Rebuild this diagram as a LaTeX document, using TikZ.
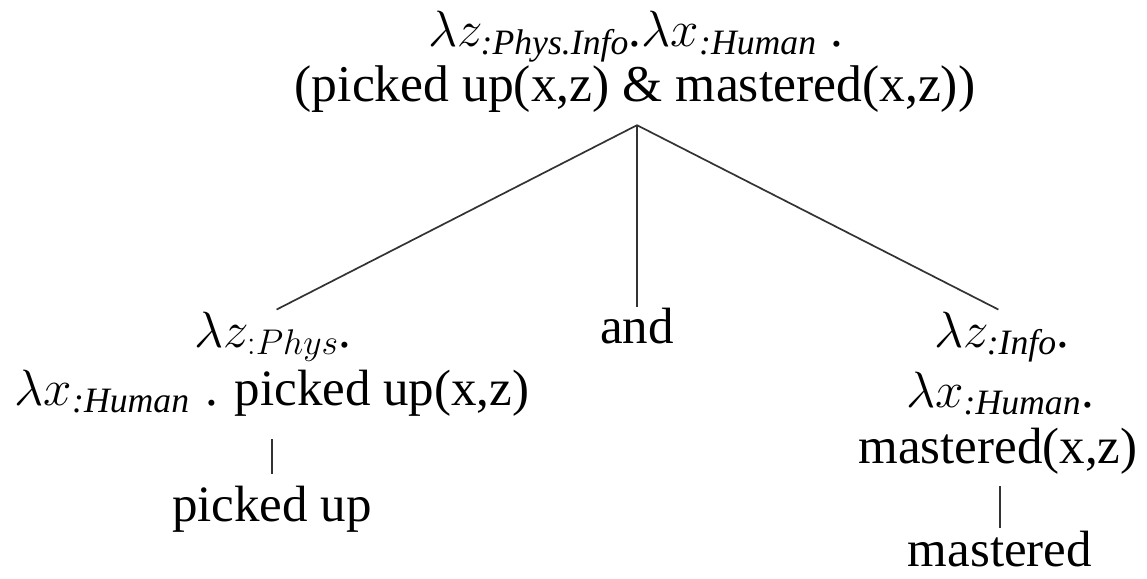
\RequirePackage{fix-cm}
\documentclass[tikz,border=0pt]{standalone}
\usepackage{amsmath}
\usepackage{fontspec}
\setmainfont{Liberation Serif}
\usetikzlibrary{calc}
\begin{document}
\begin{tikzpicture}[x=1pt,y=-1pt,
  lbl/.style={anchor=base,inner sep=0pt,font=\fontsize{51}{60}\selectfont},
  branch/.style={draw=black!80,line width=1.7pt}]
\useasboundingbox (0,0) rectangle (1147,578);
% root
\node[lbl] (topA) at (636,47) {$\lambda z_{\textit{:Phys.Info}}$.$\lambda x_{\textit{:Human}}$\hspace{0.28em}.};
\node[lbl, font=\fontsize{51.6}{60}\selectfont] (topB) at (635,101) {(picked up(x,z) \& mastered(x,z))};
% middle conjunction
\node[lbl] (and) at (637,343) {and};
% left daughter
\node[lbl] (leftA) at (273,347) {$\lambda z_{:Phys}$.};
\node[lbl] (leftB) at (272,405) {$\lambda x_{\textit{:Human}}$\hspace{0.3em}. picked up(x,z)};
\node[lbl] (pu) at (272,521) {picked up};
% right daughter
\node[lbl] (rightA) at (1002,347) {$\lambda z_{\textit{:Info}}$.};
\node[lbl] (rightB) at (1000,407) {$\lambda x_{\textit{:Human}}$.};
\node[lbl] (rightC) at (998,463) {mastered(x,z)};
\node[lbl] (ms) at (1000,566) {mastered};
% branches
\coordinate (fork) at ([yshift=-13pt]topB.south -| and.north);
\draw[branch, shorten >=4pt] (fork) -- (leftA.north);
\draw[branch] (fork) -- (and.north);
\draw[branch, shorten >=4pt] (fork) -- (rightA.north);
\draw[branch, shorten <=23pt, shorten >=11pt] (leftB.south -| pu.north) -- (pu.north);
\draw[branch, shorten <=12pt, shorten >=2pt] (rightC.south -| ms.north) -- (ms.north);
\end{tikzpicture}
\end{document}
